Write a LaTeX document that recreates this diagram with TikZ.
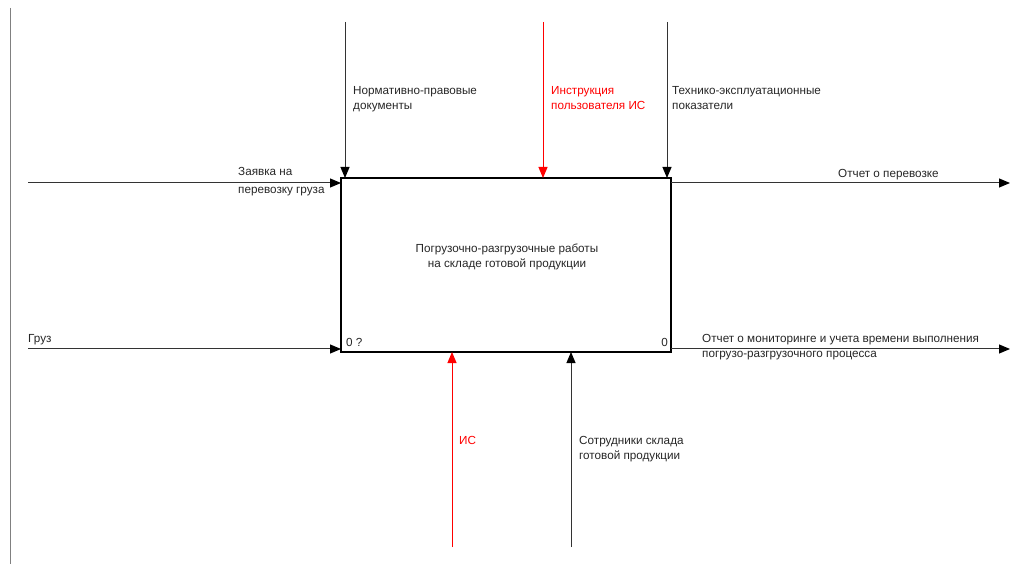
\documentclass[tikz,border=0pt]{standalone}
\usepackage{fontspec}
\setmainfont{Liberation Sans}
\usetikzlibrary{arrows.meta}
\definecolor{ln}{HTML}{333333}
\definecolor{rd}{HTML}{FF0000}
\begin{document}
\begin{tikzpicture}[x=1pt,y=-1pt,
  conn/.style={draw=ln,line width=1pt,-{Triangle[length=11pt,width=9pt,color=black]}},
  rconn/.style={draw=rd,line width=1pt,-{Triangle[length=11pt,width=9pt]}},
  lbl/.style={font=\fontsize{11.7}{15}\selectfont,align=left,inner sep=0pt,text=black!85},
  rlbl/.style={lbl,text=rd},
  act/.style={draw=black,line width=1.8pt,minimum width=330pt,minimum height=174pt,inner sep=0pt}]
\useasboundingbox (0,0) rectangle (1021,564);
\draw[draw=gray,line width=0.8pt] (10,8) -- (10,564);
\node[act] (box) at (506,265) {};
\node[lbl,align=center] (t) at (507,256.5) {Погрузочно-разгрузочные работы\\на складе готовой продукции};
\node[lbl,anchor=south west] (n0q) at (346,347) {0 ?};
\node[lbl,anchor=south east] (n0) at (668,347) {0};
% top controls
\coordinate (c1s) at (345,22); \coordinate (c1e) at (345,178);
\coordinate (c2s) at (543,22); \coordinate (c2e) at (543,178);
\coordinate (c3s) at (667,22); \coordinate (c3e) at (667,178);
\draw[conn] (c1s) -- (c1e);
\draw[rconn] (c2s) -- (c2e);
\draw[conn] (c3s) -- (c3e);
\node[lbl,anchor=north west] (l1) at (353,86) {Нормативно-правовые\\документы};
\node[rlbl,anchor=north west] (l2) at (551,86) {Инструкция\\пользователя ИС};
\node[lbl,anchor=north west] (l3) at (672,86) {Технико-эксплуатационные\\показатели};
% inputs
\coordinate (i1s) at (28,183); \coordinate (i1e) at (341,183);
\coordinate (i2s) at (28,349); \coordinate (i2e) at (341,349);
\draw[conn] (i1s) -- (i1e);
\draw[conn] (i2s) -- (i2e);
\node[lbl,anchor=north west] (li1) at (238,167) {Заявка на\\[3pt]перевозку груза};
\node[lbl,anchor=south west] (li2) at (28,345) {Груз};
% outputs
\coordinate (o1s) at (671,183); \coordinate (o1e) at (1010,183);
\coordinate (o2s) at (671,349); \coordinate (o2e) at (1010,349);
\draw[conn] (o1s) -- (o1e);
\draw[conn] (o2s) -- (o2e);
\node[lbl,anchor=south west] (lo1) at (838,180) {Отчет о перевозке};
\node[lbl,anchor=north west] (lo2) at (702,334) {Отчет о мониторинге и учета времени выполнения\\погрузо-разгрузочного процесса};
% mechanisms
\coordinate (m1s) at (452,547); \coordinate (m1e) at (452,352);
\coordinate (m2s) at (571,547); \coordinate (m2e) at (571,352);
\draw[rconn] (m1s) -- (m1e);
\draw[conn] (m2s) -- (m2e);
\node[rlbl,anchor=north west] (lm1) at (459,436) {ИС};
\node[lbl,anchor=north west] (lm2) at (579,436) {Сотрудники склада\\готовой продукции};
\end{tikzpicture}
\end{document}
